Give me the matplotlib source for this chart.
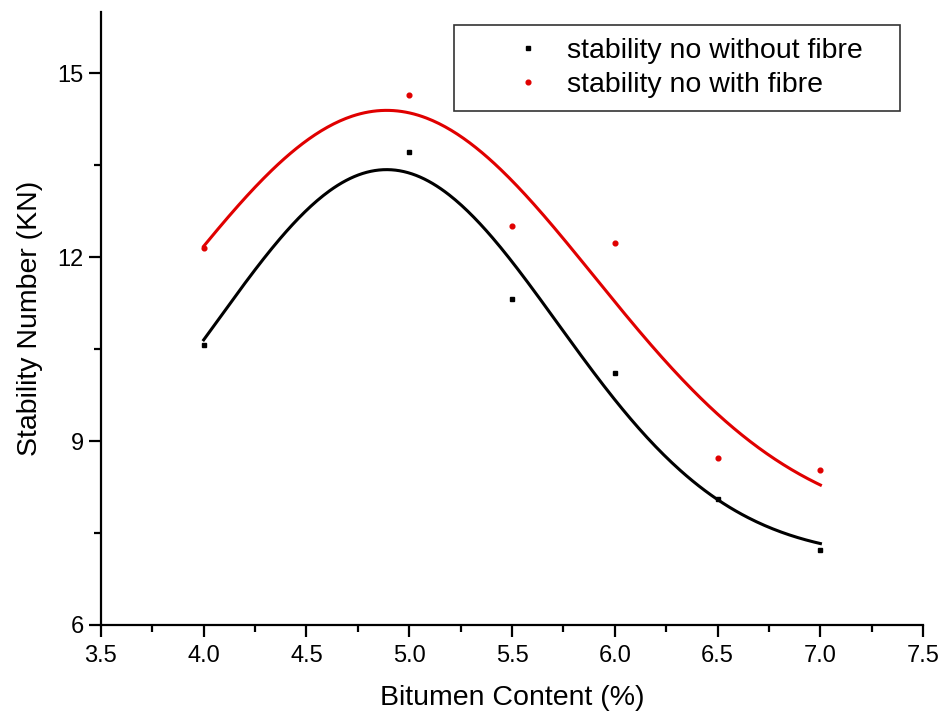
import numpy as np
import matplotlib.pyplot as plt
from matplotlib.ticker import MultipleLocator

plt.rcParams['font.family'] = ['Liberation Sans', 'DejaVu Sans']

bitumen = [4.0, 5.0, 5.5, 6.0, 6.5, 7.0]
stab_without = [10.57, 13.71, 11.32, 10.11, 8.06, 7.23]
stab_with = [12.15, 14.64, 12.51, 12.24, 8.72, 8.52]


def gauss_fit(x, y):
    # y0 + A*exp(-(x-xc)^2/(2w^2)), grid search on xc, w; linear solve for y0, A
    x = np.asarray(x)
    y = np.asarray(y)
    best = None
    for xc in np.linspace(4.3, 5.5, 121):
        for w in np.linspace(0.3, 2.0, 171):
            g = np.exp(-(x - xc) ** 2 / (2 * w ** 2))
            M = np.column_stack([np.ones_like(x), g])
            coef, *_ = np.linalg.lstsq(M, y, rcond=None)
            err = np.sum((M @ coef - y) ** 2)
            if best is None or err < best[0]:
                best = (err, xc, w, coef)
    _, xc, w, coef = best
    return lambda t: coef[0] + coef[1] * np.exp(-(t - xc) ** 2 / (2 * w ** 2))


fig = plt.figure(figsize=(9.43, 7.15), dpi=100)
ax = fig.add_axes([0.107, 0.126, 0.872, 0.857])

xs = np.linspace(4.0, 7.0, 300)
f_without = gauss_fit(bitumen, stab_without)
f_with = gauss_fit(bitumen, stab_with)

ax.plot(xs, f_without(xs), color='black', lw=2.2, zorder=2)
ax.plot(xs, f_with(xs), color='#e00000', lw=2.2, zorder=2)
ax.plot(bitumen, stab_without, 's', color='black', ms=3.2, ls='none',
        label='stability no without fibre', zorder=3)
ax.plot(bitumen, stab_with, 'o', color='#e00000', ms=3.4, ls='none',
        label='stability no with fibre', zorder=3)

ax.set_xlim(3.5, 7.5)
ax.set_ylim(6, 16)
ax.xaxis.set_major_locator(MultipleLocator(0.5))
ax.xaxis.set_minor_locator(MultipleLocator(0.25))
ax.yaxis.set_major_locator(MultipleLocator(3))
ax.yaxis.set_minor_locator(MultipleLocator(1.5))
ax.xaxis.set_major_formatter(plt.FormatStrFormatter('%.1f'))

for s in ['top', 'right']:
    ax.spines[s].set_visible(False)
for s in ['left', 'bottom']:
    ax.spines[s].set_linewidth(1.6)

ax.tick_params(which='major', direction='out', length=8.5, width=1.6,
               labelsize=17, pad=4)
ax.tick_params(axis='x', which='major', pad=6)
ax.tick_params(which='minor', direction='out', length=5, width=1.6)

ax.set_xlabel('Bitumen Content (%)', fontsize=20.5, labelpad=13)
ax.set_ylabel('Stability Number (KN)', fontsize=20.5, labelpad=10)

leg = ax.legend(loc='upper left', bbox_to_anchor=(0.4294, 0.845, 0.5426, 0.134),
                mode='expand', borderaxespad=0, fontsize=20.5,
                frameon=True, fancybox=False, edgecolor='black',
                borderpad=0.45, labelspacing=0.3,
                handlelength=4.3, handletextpad=-0.78, numpoints=1)
leg.get_frame().set_linewidth(1.2)

fig.savefig('out.png', dpi=100)
